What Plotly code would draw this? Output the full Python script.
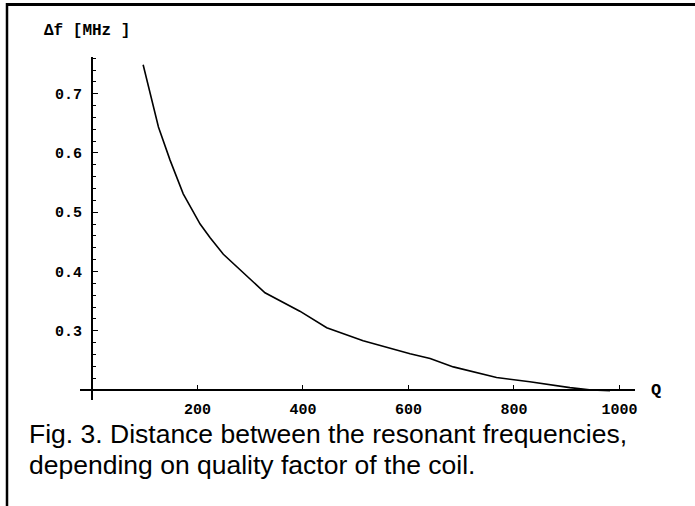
import plotly.graph_objects as go

# Data
q_values = [97, 110, 126, 148, 173, 205, 224, 249, 298, 306, 328, 394, 445,
            514, 603, 641, 685, 767, 830, 906, 947, 982]
df_values = [0.749, 0.701, 0.644, 0.588, 0.531, 0.480, 0.457, 0.429, 0.389,
             0.382, 0.364, 0.333, 0.305, 0.283, 0.261, 0.253, 0.239, 0.221,
             0.214, 0.204, 0.200, 0.199]
x_tick_vals = [200, 400, 600, 800, 1000]
x_tick_text = ["200", "400", "600", "800", "1000"]
y_tick_vals = [0.3, 0.4, 0.5, 0.6, 0.7]
y_tick_text = ["0.3", "0.4", "0.5", "0.6", "0.7"]
y_label = "Δf [MHz ]"
x_label = "Q"
caption_lines = ["Fig. 3. Distance between the resonant frequencies,",
                 "depending on quality factor of the coil."]

W, H = 695, 506
L, R, T, B = 80, 60, 57, 106
PW, PH = W - L - R, H - T - B
x_range = [-22.7, 1029.4]
y_range = [0.1831, 0.762]
x_cross = 0.0      # y-axis crosses here
y_cross = 0.2      # x-axis crosses here


def px(xp):
    return (xp - L) / PW


def py(yp):
    return 1 - (yp - T) / PH


tick_font = dict(family="Liberation Mono", size=15, color="black",
                 weight="bold")

fig = go.Figure()
fig.add_trace(go.Scatter(x=q_values, y=df_values, mode="lines",
                         line=dict(color="black", width=1.6),
                         hoverinfo="skip", showlegend=False))

fig.update_layout(
    width=W, height=H,
    margin=dict(l=L, r=R, t=T, b=B, pad=0),
    paper_bgcolor="white", plot_bgcolor="white",
    showlegend=False,
    xaxis=dict(range=x_range, anchor="free",
               position=(y_cross - y_range[0]) / (y_range[1] - y_range[0]),
               showgrid=False, zeroline=False, showline=True,
               linecolor="black", linewidth=1.8,
               tickmode="array", tickvals=x_tick_vals, ticktext=x_tick_text,
               ticks="inside", ticklen=4, tickwidth=1.2, tickcolor="black",
               tickfont=tick_font, ticklabelstandoff=5),
    yaxis=dict(range=y_range, anchor="free",
               position=(x_cross - x_range[0]) / (x_range[1] - x_range[0]),
               showgrid=False, zeroline=False, showline=True,
               linecolor="black", linewidth=1.8,
               tickmode="array", tickvals=y_tick_vals, ticktext=y_tick_text,
               ticks="inside", ticklen=5, tickwidth=1.2, tickcolor="black",
               tickfont=tick_font, ticklabelstandoff=6,
               minor=dict(tickmode="linear", tick0=0.2, dtick=0.02,
                          ticks="inside", ticklen=3, tickwidth=1,
                          tickcolor="black")),
    annotations=[
        dict(text=y_label, xref="paper", yref="paper", x=px(42), y=py(31),
             xanchor="left", yanchor="middle", showarrow=False,
             font=dict(family="Liberation Mono", size=16, color="black",
                       weight="bold")),
        dict(text=x_label, xref="paper", yref="paper", x=px(649), y=py(390),
             xanchor="left", yanchor="middle", showarrow=False,
             font=dict(family="Liberation Mono", size=17, color="black",
                       weight="bold")),
        dict(text=caption_lines[0], xref="paper", yref="paper", x=px(27),
             y=py(434), xanchor="left", yanchor="middle", showarrow=False,
             font=dict(family="Liberation Sans", size=26.5, color="black")),
        dict(text=caption_lines[1], xref="paper", yref="paper", x=px(27),
             y=py(465), xanchor="left", yanchor="middle", showarrow=False,
             font=dict(family="Liberation Sans", size=26.5, color="black")),
    ],
    shapes=[
        dict(type="line", xref="paper", yref="paper", x0=px(6), x1=px(700),
             y0=py(4.5), y1=py(4.5), line=dict(color="black", width=3),
             layer="above"),
        dict(type="line", xref="paper", yref="paper", x0=px(7), x1=px(7),
             y0=py(3), y1=py(520), line=dict(color="black", width=2.5),
             layer="above"),
    ],
)

fig.write_html("out.html",
               config={"displayModeBar": False},
               post_script="document.body.style.margin='0';")
